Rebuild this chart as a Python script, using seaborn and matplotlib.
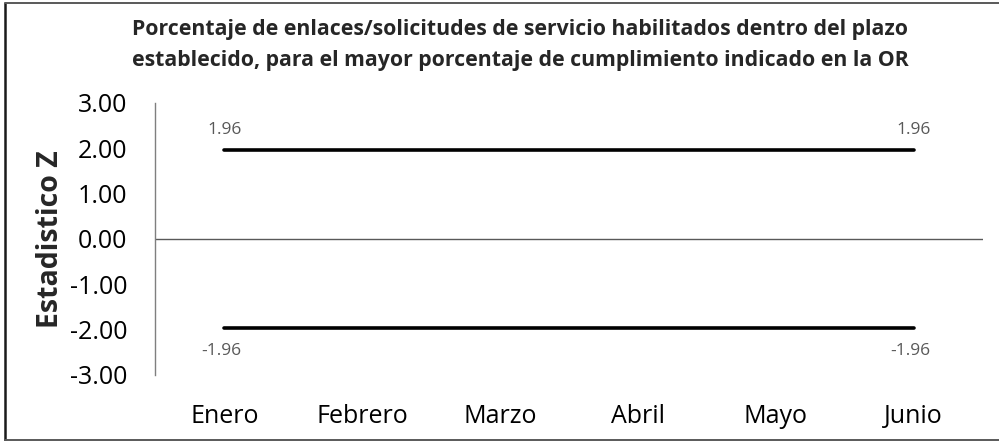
import matplotlib
matplotlib.use("Agg")
import matplotlib.pyplot as plt
import matplotlib.lines as mlines
import pandas as pd
import seaborn as sns

# Monthly categories and the two control limits of the Z statistic
meses = ["Enero", "Febrero", "Marzo", "Abril", "Mayo", "Junio"]
limite_superior = [1.96, 1.96, 1.96, 1.96, 1.96, 1.96]
limite_inferior = [-1.96, -1.96, -1.96, -1.96, -1.96, -1.96]
yticks = [3.0, 2.0, 1.0, 0.0, -1.0, -2.0, -3.0]

titulo = ("Porcentaje de enlaces/solicitudes de servicio habilitados dentro del plazo\n"
          "establecido, para el mayor porcentaje de cumplimiento indicado en la OR")

sns.set_theme(style="white")
plt.rcParams["font.family"] = ["Open Sans", "DejaVu Sans"]

df = pd.DataFrame({
    "mes": meses * 2,
    "z": limite_superior + limite_inferior,
    "serie": ["sup"] * len(meses) + ["inf"] * len(meses),
})
df["pos"] = list(range(len(meses))) * 2

fig = plt.figure(figsize=(9.99, 4.41), dpi=100)
ax = fig.add_axes([0.1555, 0.1497, 0.828, 0.6168])

sns.lineplot(data=df, x="pos", y="z", units="serie", estimator=None,
             color="black", linewidth=2.6, ax=ax, legend=False)

ax.set_xlim(-0.5, len(meses) - 0.5)
ax.set_ylim(-3, 3)
ax.set_yticks(yticks)
ax.set_yticklabels([f"{v:.2f}" for v in yticks])
ax.set_xticks(range(len(meses)))
ax.set_xticklabels(meses)
ax.tick_params(axis="both", length=0, labelsize=18, colors="black")
ax.tick_params(axis="y", pad=20)
ax.tick_params(axis="x", pad=21)
ax.set_xlabel("")
ax.set_ylabel("Estadistico Z", fontsize=20.5, fontweight="bold", labelpad=4)

for side in ["top", "right", "bottom"]:
    ax.spines[side].set_visible(False)
ax.spines["left"].set_color("#7f7f7f")
ax.spines["left"].set_linewidth(1.0)
ax.axhline(0, color="#595959", linewidth=1.0, zorder=1)

# Value labels at the first and last month
for i in (0, len(meses) - 1):
    ax.annotate(f"{limite_superior[i]:.2f}", (i, limite_superior[i]),
                xytext=(0, 9), textcoords="offset points", ha="center",
                va="bottom", fontsize=12.5, color="#595959")
    ax.annotate(f"{limite_inferior[i]:.2f}", (i, limite_inferior[i]),
                xytext=(-2, -11), textcoords="offset points", ha="center",
                va="top", fontsize=12.5, color="#595959")

fig.text(0.521, 0.898, titulo, ha="center", va="center", fontsize=15.3,
         fontweight="bold", linespacing=1.6)

# Outer frame of the chart area
W, H = 999, 441
fig.add_artist(mlines.Line2D([4.5 / W, 4.5 / W], [1 - 2.5 / H, 1 - 440 / H],
                             transform=fig.transFigure, color="#1a1a1a", lw=1.8))
fig.add_artist(mlines.Line2D([4.5 / W, 1.0], [1 - 2.5 / H, 1 - 2.5 / H],
                             transform=fig.transFigure, color="#595959", lw=1.4))
fig.add_artist(mlines.Line2D([4.5 / W, 1.0], [1 - 440 / H, 1 - 440 / H],
                             transform=fig.transFigure, color="#595959", lw=1.4))

fig.savefig("out.png", dpi=100)
